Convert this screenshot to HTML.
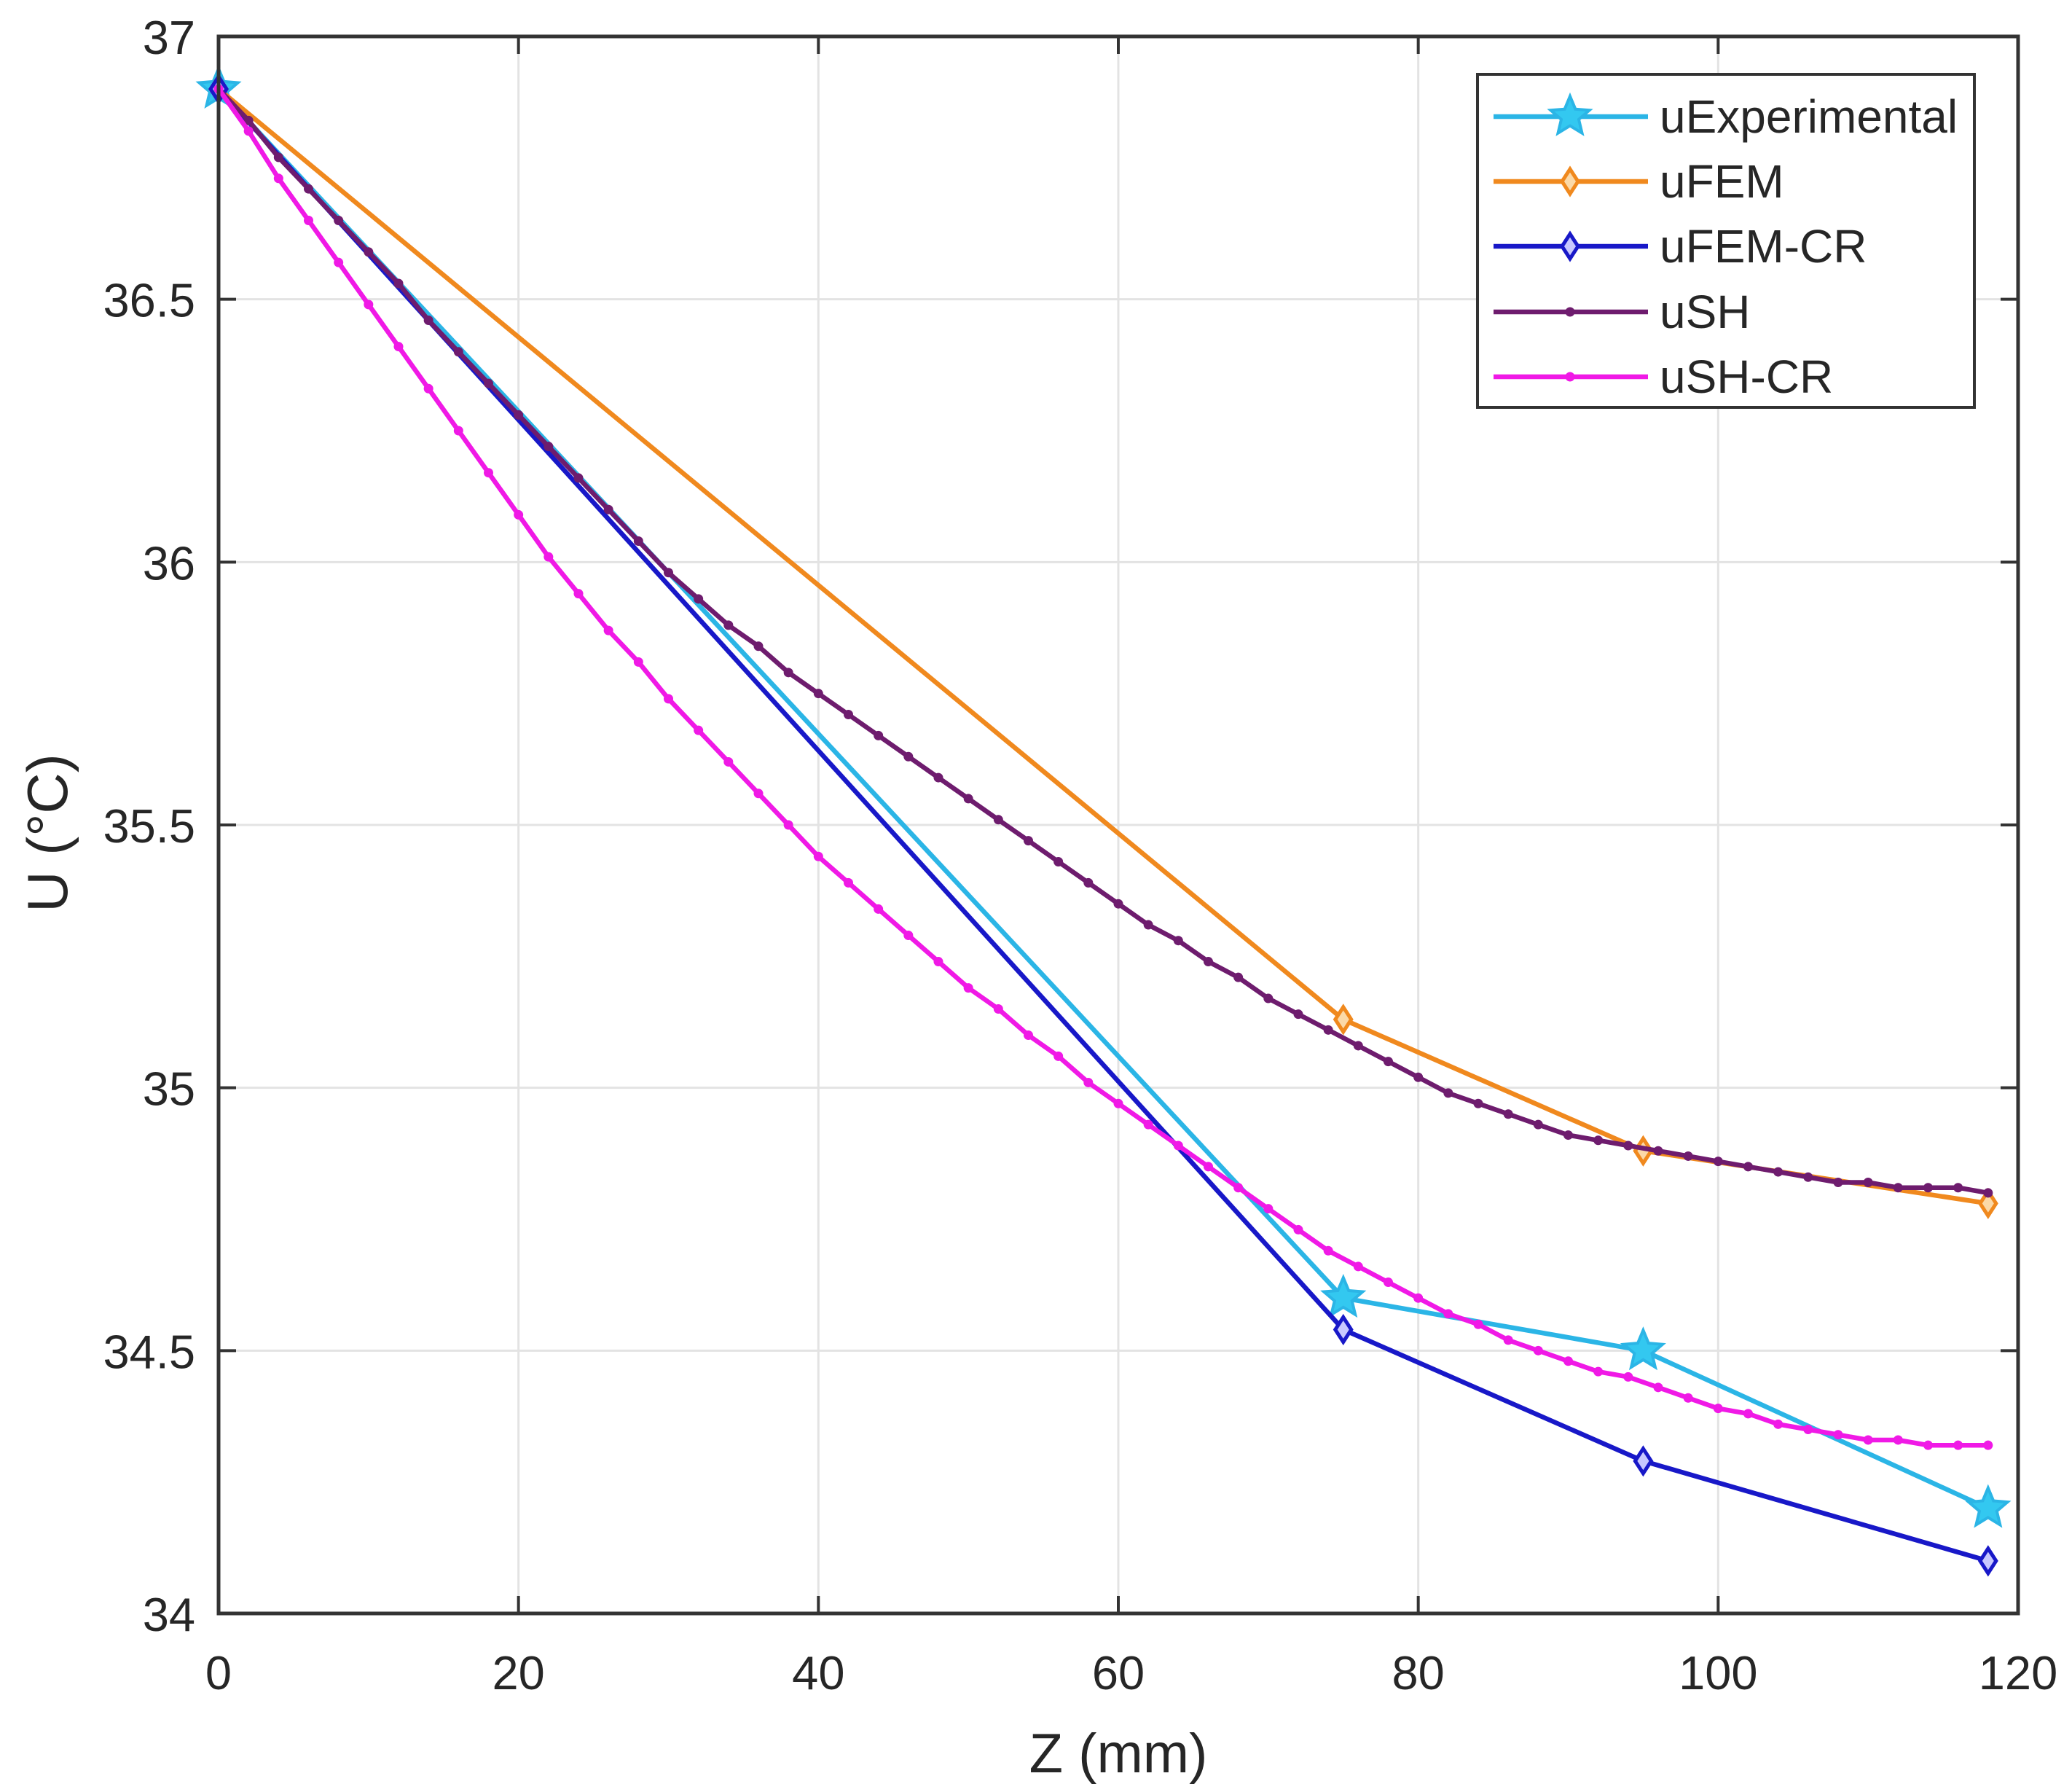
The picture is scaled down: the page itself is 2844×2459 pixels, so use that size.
<!DOCTYPE html>
<html><head><meta charset="utf-8"><style>
html,body{margin:0;padding:0;background:#fff}
svg{display:block}
text{font-family:"Liberation Sans",Arial,sans-serif;fill:#262626}
</style></head><body>
<svg id="chart" width="2844" height="2459" viewBox="0 0 2844 2459" xmlns="http://www.w3.org/2000/svg">
<g id="grid"></g>
<g id="series"></g>
<g id="axes"></g>
<text x="1535" y="2432" font-size="76" text-anchor="middle">Z (mm)</text>
<text x="0" y="0" font-size="78" text-anchor="middle" transform="translate(92,1143) rotate(-90)">U (°C)</text>
<g id="legend"></g>
</svg>
<script>
const xTicks=[0,20,40,60,80,100,120];
const yTicks=[34,34.5,35,35.5,36,36.5,37];
const yTickLabels=["34","34.5","35","35.5","36","36.5","37"];
const zFem=[0,75,95,118];
const uExperimental=[36.9,34.6,34.5,34.2];
const uFEM=[36.9,35.13,34.88,34.78];
const uFEMCR=[36.9,34.54,34.29,34.1];
const zSH=[0,2,4,6,8,10,12,14,16,18,20,22,24,26,28,30,32,34,36,38,40,42,44,46,48,50,52,54,56,58,60,62,64,66,68,70,72,74,76,78,80,82,84,86,88,90,92,94,96,98,100,102,104,106,108,110,112,114,116,118];
const uSH=[36.90,36.84,36.77,36.71,36.65,36.59,36.53,36.46,36.40,36.34,36.28,36.22,36.16,36.10,36.04,35.98,35.93,35.88,35.84,35.79,35.75,35.71,35.67,35.63,35.59,35.55,35.51,35.47,35.43,35.39,35.35,35.31,35.28,35.24,35.21,35.17,35.14,35.11,35.08,35.05,35.02,34.99,34.97,34.95,34.93,34.91,34.90,34.89,34.88,34.87,34.86,34.85,34.84,34.83,34.82,34.82,34.81,34.81,34.81,34.80];
const uSHCR=[36.90,36.82,36.73,36.65,36.57,36.49,36.41,36.33,36.25,36.17,36.09,36.01,35.94,35.87,35.81,35.74,35.68,35.62,35.56,35.50,35.44,35.39,35.34,35.29,35.24,35.19,35.15,35.10,35.06,35.01,34.97,34.93,34.89,34.85,34.81,34.77,34.73,34.69,34.66,34.63,34.60,34.57,34.55,34.52,34.50,34.48,34.46,34.45,34.43,34.41,34.39,34.38,34.36,34.35,34.34,34.33,34.33,34.32,34.32,34.32];

const NS="http://www.w3.org/2000/svg";
const L=300,R=2770,T=50,B=2214;
const xs=v=>L+(v-0)/(120-0)*(R-L);
const ys=v=>B-(v-34)/(37-34)*(B-T);
function mk(tag,attrs,parent){const e=document.createElementNS(NS,tag);for(const k in attrs)e.setAttribute(k,attrs[k]);parent.appendChild(e);return e;}
const grid=document.getElementById('grid'),axes=document.getElementById('axes'),ser=document.getElementById('series'),leg=document.getElementById('legend');
mk('rect',{x:L,y:T,width:R-L,height:B-T,fill:'#fff'},grid);
xTicks.forEach(t=>{
  const g=mk('line',{x1:xs(t),x2:xs(t),y1:T,y2:B,stroke:'#e3e3e3','stroke-width':3},grid);
  
  
  mk('line',{x1:xs(t),x2:xs(t),y1:B,y2:B-24,stroke:'#333','stroke-width':4},axes);
  mk('line',{x1:xs(t),x2:xs(t),y1:T,y2:T+24,stroke:'#333','stroke-width':4},axes);
  const tx=mk('text',{x:xs(t),y:2318,'font-size':65,'text-anchor':'middle'},axes);
  tx.textContent=String(t);
  
  
});
yTicks.forEach((t,i)=>{
  const g=mk('line',{x1:L,x2:R,y1:ys(t),y2:ys(t),stroke:'#e3e3e3','stroke-width':3},grid);
  
  
  mk('line',{x1:L,x2:L+24,y1:ys(t),y2:ys(t),stroke:'#333','stroke-width':4},axes);
  mk('line',{x1:R,x2:R-24,y1:ys(t),y2:ys(t),stroke:'#333','stroke-width':4},axes);
  const tx=mk('text',{x:268,y:ys(t)+24,'font-size':65,'text-anchor':'end'},axes);
  tx.textContent=yTickLabels[i];
  
  
});
const frame=mk('rect',{x:L,y:T,width:R-L,height:B-T,fill:'none',stroke:'#333','stroke-width':5},axes);



function starPts(cx,cy,r){let p=[];for(let i=0;i<10;i++){const a=-Math.PI/2+i*Math.PI/5;const rr=i%2?r*0.45:r;p.push((cx+rr*Math.cos(a)).toFixed(1)+','+(cy+rr*Math.sin(a)).toFixed(1));}return p.join(' ');}
function marker(type,cx,cy,color,parent,fill){
  if(type==='star')return mk('polygon',{points:starPts(cx,cy,28),fill:fill,stroke:color,'stroke-width':4},parent);
  if(type==='diamond')return mk('polygon',{points:`${cx},${cy-17} ${cx+11},${cy} ${cx},${cy+17} ${cx-11},${cy}`,fill:fill,stroke:color,'stroke-width':5},parent);
  return mk('circle',{cx:cx,cy:cy,r:6.5,fill:color},parent);
}
const seriesDefs=[
 {name:'uExperimental',x:zFem,y:uExperimental,color:'#2bb5e6',m:'star',fill:'#33c8f0',w:6.5,dn:'series-uexperimental'},
 {name:'uFEM',x:zFem,y:uFEM,color:'#f0891e',m:'diamond',fill:'#fbd9a8',w:6.5,dn:'series-ufem'},
 {name:'uFEM-CR',x:zFem,y:uFEMCR,color:'#1818c8',m:'diamond',fill:'#c8c8ff',w:6.5,dn:'series-ufem-cr'},
 {name:'uSH',x:zSH,y:uSH,color:'#6e1c6e',m:'dot',fill:'#6e1c6e',w:6.5,dn:'series-ush'},
 {name:'uSH-CR',x:zSH,y:uSHCR,color:'#f019e6',m:'dot',fill:'#f019e6',w:6.5,dn:'series-ush-cr'}
];
seriesDefs.forEach(s=>{
  const g=mk('g',{},ser);
  
  
  const pts=s.x.map((x,i)=>xs(x).toFixed(1)+','+ys(s.y[i]).toFixed(1)).join(' ');
  const pl=mk('polyline',{points:pts,fill:'none',stroke:s.color,'stroke-width':s.w,'stroke-linejoin':'round'},g);
  
  
  s.x.forEach((x,i)=>{
    const m=marker(s.m,xs(x),ys(s.y[i]),s.color,g,s.fill);
    
    
  });
});
// legend
const lb=mk('rect',{x:2028,y:102,width:682,height:457,fill:'#fff',stroke:'#333','stroke-width':4},leg);


const legY=[160,249,338,428,517];
seriesDefs.forEach((s,i)=>{
  const g=mk('g',{},leg);
  
  
  const y=legY[i];
  mk('line',{x1:2050,x2:2262,y1:y,y2:y,stroke:s.color,'stroke-width':s.w},g);
  marker(s.m,2155,y,s.color,g,s.fill);
  const t=mk('text',{x:2278,y:y+22,'font-size':64},g);
  t.textContent=s.name;
});
</script>
</body></html>
